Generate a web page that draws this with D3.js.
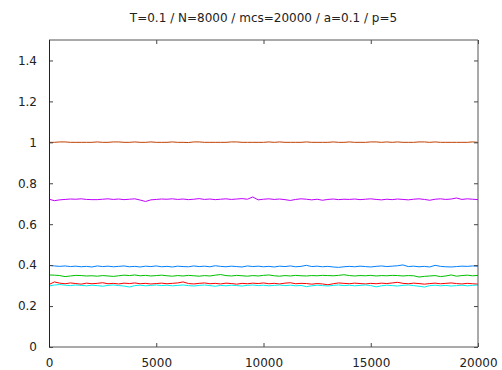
<!DOCTYPE html>
<html>
<head>
<meta charset="utf-8">
<script src="https://cdn.jsdelivr.net/npm/d3@7"></script>
<style>
  body { margin: 0; background: #fff; }
  text { font-family: "DejaVu Sans", sans-serif; fill: #222; }
</style>
</head>
<body>
<div id="chart"></div>
<script>
const width = 502, height = 370;
const margin = { top: 40, right: 24, bottom: 23, left: 49 };

const title = "T=0.1 / N=8000 / mcs=20000 / a=0.1 / p=5";
const xTicks = [0, 5000, 10000, 15000, 20000];
const yTicks = [0, 0.2, 0.4, 0.6, 0.8, 1, 1.2, 1.4];
const step = 250; // one sample every 250 mcs

// series values
const red = [0.305,0.318,0.312,0.309,0.313,0.310,0.307,0.312,0.309,0.311,0.314,0.309,0.311,0.308,0.312,0.310,0.313,0.309,0.311,0.308,
  0.310,0.312,0.309,0.311,0.313,0.318,0.310,0.308,0.311,0.313,0.309,0.311,0.308,0.312,0.310,0.307,0.311,0.309,0.312,0.310,
  0.313,0.309,0.311,0.308,0.312,0.314,0.309,0.311,0.310,0.307,0.310,0.308,0.304,0.309,0.313,0.311,0.309,0.312,0.310,0.308,
  0.311,0.309,0.312,0.310,0.313,0.316,0.311,0.309,0.312,0.310,0.307,0.310,0.312,0.309,0.311,0.313,0.310,0.308,0.311,0.309,0.307];
const green = [0.352,0.351,0.349,0.344,0.347,0.350,0.349,0.347,0.348,0.346,0.349,0.347,0.345,0.348,0.351,0.349,0.352,0.348,0.350,0.347,
  0.349,0.351,0.348,0.346,0.349,0.347,0.350,0.348,0.346,0.349,0.347,0.351,0.354,0.349,0.347,0.350,0.348,0.346,0.349,0.347,
  0.350,0.352,0.348,0.346,0.349,0.347,0.350,0.348,0.347,0.349,0.348,0.350,0.349,0.348,0.350,0.353,0.349,0.347,0.349,0.348,
  0.350,0.347,0.349,0.348,0.350,0.349,0.347,0.349,0.348,0.342,0.345,0.347,0.349,0.344,0.347,0.352,0.346,0.349,0.351,0.348,0.350];
const blue = [0.399,0.396,0.394,0.396,0.393,0.395,0.392,0.394,0.391,0.396,0.393,0.395,0.392,0.394,0.396,0.392,0.394,0.391,0.395,0.393,
  0.396,0.392,0.394,0.391,0.395,0.393,0.392,0.396,0.393,0.395,0.392,0.397,0.394,0.392,0.395,0.393,0.391,0.396,0.393,0.395,
  0.392,0.394,0.391,0.395,0.393,0.396,0.392,0.394,0.399,0.393,0.395,0.392,0.394,0.391,0.389,0.392,0.394,0.392,0.395,0.393,
  0.391,0.394,0.396,0.393,0.395,0.397,0.401,0.393,0.395,0.392,0.394,0.391,0.399,0.394,0.392,0.391,0.393,0.395,0.394,0.396,0.395];
const magenta = [0.722,0.715,0.719,0.721,0.723,0.722,0.724,0.721,0.720,0.720,0.722,0.724,0.721,0.723,0.720,0.722,0.724,0.718,0.711,0.719,
  0.721,0.723,0.722,0.724,0.721,0.723,0.720,0.722,0.725,0.721,0.723,0.720,0.722,0.724,0.721,0.723,0.725,0.722,0.733,0.719,
  0.722,0.724,0.721,0.723,0.720,0.716,0.721,0.724,0.722,0.719,0.722,0.717,0.721,0.723,0.720,0.722,0.721,0.723,0.720,0.722,
  0.724,0.721,0.719,0.722,0.720,0.723,0.721,0.719,0.722,0.724,0.721,0.717,0.722,0.724,0.721,0.723,0.728,0.721,0.724,0.722,0.720];
const cyan = [0.298,0.303,0.305,0.302,0.300,0.303,0.301,0.299,0.302,0.300,0.297,0.301,0.303,0.300,0.298,0.293,0.300,0.302,0.299,0.301,
  0.303,0.300,0.302,0.299,0.301,0.303,0.300,0.298,0.301,0.303,0.300,0.297,0.301,0.299,0.302,0.300,0.298,0.301,0.303,0.300,
  0.302,0.299,0.301,0.303,0.300,0.302,0.299,0.301,0.295,0.299,0.302,0.300,0.298,0.301,0.303,0.300,0.302,0.299,0.301,0.303,
  0.300,0.294,0.299,0.302,0.300,0.298,0.301,0.303,0.300,0.297,0.293,0.300,0.302,0.299,0.301,0.298,0.300,0.302,0.299,0.301,0.303];
const brown = [1.000,1.000,1.002,1.002,1.000,1.000,1.000,1.000,1.000,1.002,1.000,1.000,1.002,1.002,1.000,1.000,1.002,1.000,1.000,1.002,
  1.000,1.000,1.000,1.002,1.000,1.000,0.999,1.002,1.002,1.000,1.000,1.000,1.000,1.000,1.002,1.002,1.000,1.000,1.000,1.000,
  1.000,1.002,1.000,1.002,1.000,1.000,1.000,1.000,1.002,1.000,1.000,1.000,1.000,1.002,1.000,1.000,1.002,1.000,1.000,1.000,
  1.002,1.002,1.000,1.002,1.000,1.002,1.000,1.000,1.000,1.002,1.002,1.000,1.002,1.000,1.000,1.000,1.000,1.000,1.000,1.002,1.000];

const series = [
  { values: red, color: "#ff0000" },
  { values: green, color: "#00c000" },
  { values: blue, color: "#0080ff" },
  { values: magenta, color: "#c000ff" },
  { values: cyan, color: "#00eeee" },
  { values: brown, color: "#c04000" }
];

var svg = d3.select("#chart").append("svg")
  .attr("width", width)
  .attr("height", height);

var x = d3.scaleLinear().domain([0, 20000]).range([margin.left, width - margin.right]);
var y = d3.scaleLinear().domain([0, 1.5]).range([height - margin.bottom, margin.top]);

svg.append("text")
  .attr("x", (margin.left + width - margin.right) / 2)
  .attr("y", 22)
  .attr("text-anchor", "middle")
  .style("font-size", "12px")
  .text(title);

var line = d3.line()
  .x((d, i) => x(i * step))
  .y(d => y(d));

svg.append("g")
  .selectAll("path")
  .data(series)
  .join("path")
  .attr("d", d => line(d.values))
  .attr("fill", "none")
  .attr("stroke", d => d.color)
  .attr("stroke-width", 1);

// axes with inward ticks, mirrored on top and right
function styleAxis(g) {
  g.select(".domain").remove();
  g.selectAll("line").attr("stroke", "#444");
  g.selectAll("text").style("font-size", "12px").attr("fill", "#222");
}

svg.append("g")
  .attr("transform", "translate(" + margin.left + ",0)")
  .call(d3.axisLeft(y).tickValues(yTicks).tickFormat(d3.format("~g")).tickSize(-4).tickPadding(12))
  .call(styleAxis);

svg.append("g")
  .attr("transform", "translate(" + (width - margin.right) + ",0)")
  .call(d3.axisRight(y).tickValues(yTicks).tickFormat("").tickSize(-4))
  .call(styleAxis);

svg.append("g")
  .attr("transform", "translate(0," + (height - margin.bottom) + ")")
  .call(d3.axisBottom(x).tickValues(xTicks).tickFormat(d3.format("d")).tickSize(-4).tickPadding(11.5))
  .call(styleAxis);

svg.append("g")
  .attr("transform", "translate(0," + margin.top + ")")
  .call(d3.axisTop(x).tickValues(xTicks).tickFormat("").tickSize(-4))
  .call(styleAxis);

// frame: left side crisp and dark, other sides softer grey as in the reference
var x0 = margin.left, x1 = width - margin.right;
var y0 = margin.top, y1 = height - margin.bottom;
svg.append("path")
  .attr("d", "M" + x0 + "," + y0 + "H" + x1 + "V" + y1 + "H" + x0)
  .attr("fill", "none")
  .attr("stroke", "#555")
  .attr("stroke-width", 1);
svg.append("line")
  .attr("x1", x0 + 0.5).attr("x2", x0 + 0.5)
  .attr("y1", y0).attr("y2", y1)
  .attr("stroke", "#222")
  .attr("stroke-width", 1);
</script>
</body>
</html>
